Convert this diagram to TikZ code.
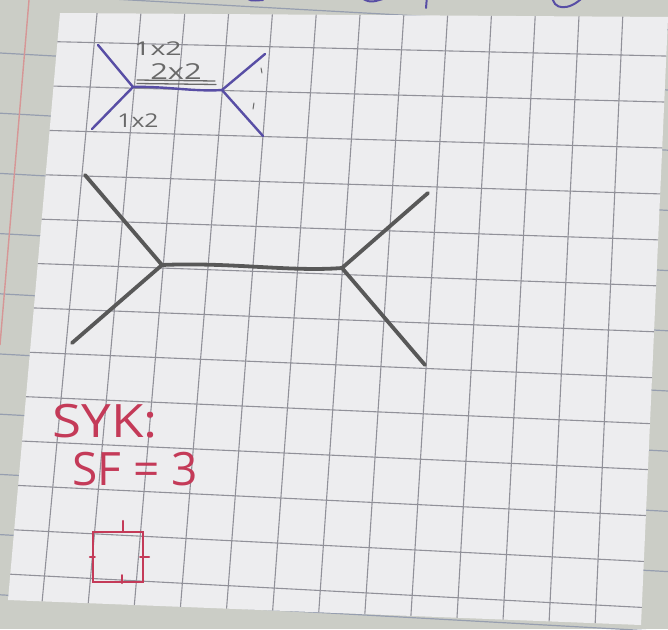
\documentclass[tikz,border=0pt]{standalone}
\usepackage{fontspec}
\setmainfont{Open Sans}
\usetikzlibrary{calc}

\definecolor{pagebg}{RGB}{203,205,198}
\definecolor{pageline}{RGB}{150,158,175}
\definecolor{marginred}{RGB}{214,150,150}
\definecolor{paper}{RGB}{237,237,239}
\definecolor{gridgray}{RGB}{145,145,153}
\definecolor{inkblue}{RGB}{88,78,165}
\definecolor{pencil}{RGB}{105,105,105}
\definecolor{marker}{RGB}{88,88,88}
\definecolor{inkred}{RGB}{196,58,88}

\begin{document}
\begin{tikzpicture}[x=1pt, y=-1pt,
  gridline/.style={gridgray, line width=1.1pt},
  noteline/.style={pageline, line width=1.2pt},
  blueink/.style={inkblue, line width=2.4pt, line cap=round, line join=round},
  pencilline/.style={pencil, line width=1.3pt, line cap=round},
  bigline/.style={marker, line width=3.8pt, line cap=round, line join=round},
  redink/.style={inkred, line width=2.2pt, line cap=round},
  lbl/.style={pencil, inner sep=0pt, font=\fontsize{19}{19}\selectfont, transform shape},
  redlbl/.style={inkred, inner sep=0pt, font=\fontsize{46}{46}\selectfont, transform shape}
]
  \useasboundingbox (0,0) rectangle (668,629);

  % notebook page behind the sticky note
  \fill[pagebg] (0,0) rectangle (668,629);
  \foreach \k in {-1,...,10} {
    \draw[noteline] (0,{53+60.2*\k}) -- (668,{90+60.2*\k});
  }
  \draw[marginred, line width=1.4pt] (29,0) -- (0,345);
  % ink from the page above, cut off at the top edge
  \draw[blueink, line width=2pt] (244,-4) .. controls (250,1) .. (263,0);
  \draw[blueink, line width=2pt] (358,-4) .. controls (370,3) .. (386,-2);
  \draw[blueink, line width=2pt] (427,-4) -- (426,8);
  \draw[blueink, line width=2pt] (552,-6) .. controls (552,12) and (570,10) .. (582,-2);

  % grid paper
  \fill[paper] (60,13) -- (668,17) -- (641,625) -- (8,600) -- cycle;
  \coordinate (ga) at (94.3,42.6);
  \coordinate (gb) at (621,55);
  \coordinate (gc) at (44.5,576);
  \coordinate (gd) at (596,605);
  \begin{scope}
    \clip (60,13) -- (668,17) -- (641,625) -- (8,600) -- cycle;
    \foreach \k in {0,...,12} {
      \coordinate (vt) at ($(ga)!\k/12!(gb)$);
      \coordinate (vb) at ($(gc)!\k/12!(gd)$);
      \draw[gridline] ($(vt)!-0.12!(vb)$) -- ($(vt)!1.12!(vb)$);
      \coordinate (hl) at ($(ga)!\k/12!(gc)$);
      \coordinate (hr) at ($(gb)!\k/12!(gd)$);
      \draw[gridline] ($(hl)!-0.12!(hr)$) -- ($(hl)!1.12!(hr)$);
    }
  \end{scope}

  % small diagram (blue ink)
  \coordinate (sl) at (133,87);
  \coordinate (sr) at (222,90);
  \coordinate (sul) at (98,45);
  \coordinate (sll) at (92,129);
  \coordinate (sur) at (265,54);
  \coordinate (slr) at (263,136);
  \draw[pencilline] (137,80) -- (215,81);
  \draw[pencilline] (137,83.5) -- (216,84.5);
  \draw[blueink] (sul) -- (sl) -- (sll);
  \draw[blueink] (sl) .. controls (165,86) and (195,92) .. (sr);
  \draw[blueink] (sur) -- (sr) -- (slr);
  \node[lbl, xscale=1.5] (up12) at (158,49) {1x2};
  \node[lbl, xscale=1.4, font=\fontsize{22}{22}\selectfont] (mid22) at (176,72) {2x2};
  \node[lbl, xscale=1.3] (lo12) at (138,121) {1x2};
  \draw[pencilline, line width=1pt] (261,68) -- (262,73);
  \draw[pencilline, line width=1pt] (254,103) -- (253,109);

  % large diagram
  \coordinate (bl) at (162,265);
  \coordinate (br) at (342,268);
  \coordinate (bul) at (85,175);
  \coordinate (bll) at (72,343);
  \coordinate (bur) at (428,193);
  \coordinate (blr) at (425,365);
  \draw[bigline] (bul) -- (bl) -- (bll);
  \draw[bigline] (bl) .. controls (230,262) and (290,272) .. (br);
  \draw[bigline] (bur) -- (br) -- (blr);

  % red notes
  \node[redlbl, xscale=1.15] (syk) at (105,421) {SYK:};
  \node[redlbl] (sf) at (135,469) {SF = 3};
  \node[draw=inkred, line width=2.2pt, minimum size=50pt, inner sep=0pt] (sq) at (118,557) {};
  \draw[redink] ([xshift=5pt]sq.north) -- ([xshift=5pt,yshift=10pt]sq.north);
  \draw[redink] ([xshift=-4pt]sq.east) -- ([xshift=5pt]sq.east);
  \draw[redink] ([xshift=-2pt]sq.west) -- ([xshift=3pt]sq.west);
  \draw[redink] ([xshift=4pt]sq.south) -- ([xshift=4pt,yshift=8pt]sq.south);
\end{tikzpicture}
\end{document}
